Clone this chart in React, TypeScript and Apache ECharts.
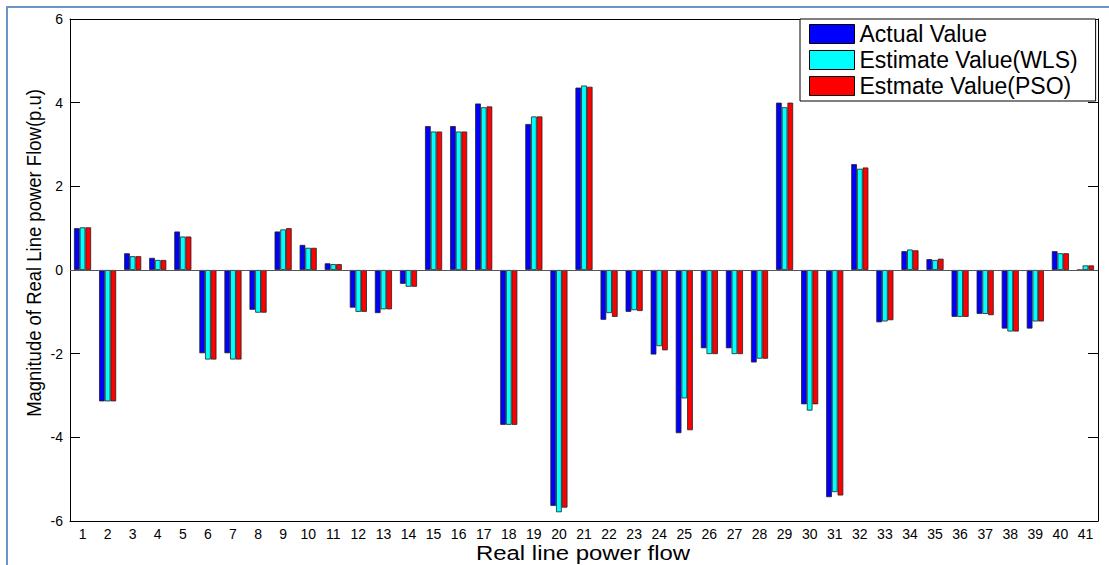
import React, { useEffect, useRef } from "react";
import * as echarts from "echarts";

const categories = [
  "1", "2", "3", "4", "5", "6", "7", "8", "9", "10",
  "11", "12", "13", "14", "15", "16", "17", "18", "19", "20",
  "21", "22", "23", "24", "25", "26", "27", "28", "29", "30",
  "31", "32", "33", "34", "35", "36", "37", "38", "39", "40", "41",
];

const actualValue = [
  1.0, -3.14, 0.4, 0.29, 0.92, -1.99, -1.99, -0.95, 0.92, 0.6,
  0.16, -0.9, -1.03, -0.33, 3.44, 3.44, 3.98, -3.7, 3.49, -5.64,
  4.36, -1.19, -1.0, -2.02, -3.9, -1.87, -1.87, -2.21, 4.0, -3.21,
  -5.43, 2.53, -1.25, 0.45, 0.26, -1.12, -1.05, -1.4, -1.4, 0.45, 0.0,
];

const wlsValue = [
  1.02, -3.14, 0.33, 0.24, 0.8, -2.14, -2.14, -1.02, 0.97, 0.53,
  0.14, -1.0, -0.94, -0.4, 3.31, 3.31, 3.89, -3.7, 3.67, -5.79,
  4.41, -1.03, -0.96, -1.82, -3.07, -2.01, -2.01, -2.12, 3.89, -3.36,
  -5.31, 2.42, -1.23, 0.49, 0.24, -1.12, -1.05, -1.47, -1.23, 0.4, 0.11,
];

const psoValue = [
  1.02, -3.14, 0.33, 0.24, 0.8, -2.14, -2.14, -1.02, 1.0, 0.53,
  0.14, -1.0, -0.94, -0.4, 3.31, 3.31, 3.91, -3.7, 3.67, -5.68,
  4.38, -1.12, -0.98, -1.92, -3.83, -2.01, -2.01, -2.12, 4.0, -3.21,
  -5.39, 2.45, -1.2, 0.47, 0.27, -1.12, -1.08, -1.47, -1.23, 0.4, 0.11,
];

const seriesNames = ["Actual Value", "Estimate Value(WLS)", "Estmate Value(PSO)"];
const seriesColors = ["#0000ff", "#00ffff", "#ff0000"];

const yMin = -6;
const yMax = 6;
const yInterval = 2;

export default function App() {
  const ref = useRef<HTMLDivElement>(null);

  useEffect(() => {
    if (!ref.current) return;
    const chart = echarts.init(ref.current, null, { renderer: "svg" });
    const font = "'Liberation Sans', Arial, Helvetica, sans-serif";
    const axisLineStyle = { color: "#000", width: 1 };

    const datasets = [actualValue, wlsValue, psoValue];
    const series: any[] = datasets.map((d, i) => ({
      type: "bar",
      name: seriesNames[i],
      data: d,
      xAxisIndex: 0,
      yAxisIndex: 0,
      barWidth: 5.7,
      barGap: "0%",
      itemStyle: { color: seriesColors[i], borderColor: "#222", borderWidth: 0.8 },
      ...(i === 0
        ? {
            markLine: {
              silent: true,
              symbol: ["none", "none"],
              label: { show: false },
              lineStyle: { color: "#555", width: 1, type: "solid" },
              data: [{ yAxis: 0 }],
            },
          }
        : {}),
    }));

    chart.setOption({
      animation: false,
      backgroundColor: "#fff",
      grid: { left: 70, top: 19, width: 1028, height: 502, containLabel: false },
      legend: {
        orient: "vertical",
        left: 800,
        top: 19,
        padding: [2, 18, 2, 9],
        itemWidth: 45,
        itemHeight: 19,
        itemGap: 0,
        icon: "rect",
        selectedMode: false,
        backgroundColor: "#fff",
        borderColor: "#000",
        borderWidth: 1,
        itemStyle: { borderColor: "#000", borderWidth: 1 },
        textStyle: { fontSize: 23, fontFamily: font, color: "#000", lineHeight: 26 },
        data: seriesNames,
      },
      xAxis: [
        {
          type: "category",
          data: categories,
          position: "bottom",
          boundaryGap: true,
          axisLine: { onZero: false, lineStyle: axisLineStyle },
          axisTick: { inside: true, length: 8, alignWithLabel: true, lineStyle: { color: "#000" } },
          axisLabel: { color: "#000", fontSize: 14, fontFamily: font, margin: 6, interval: 0 },
          splitLine: { show: false },
        },
        {
          type: "category",
          data: categories,
          position: "top",
          boundaryGap: true,
          axisLine: { onZero: false, lineStyle: axisLineStyle },
          axisTick: { inside: true, length: 8, alignWithLabel: true, lineStyle: { color: "#000" } },
          axisLabel: { show: false },
          splitLine: { show: false },
        },
      ],
      yAxis: [
        {
          type: "value",
          min: yMin,
          max: yMax,
          interval: yInterval,
          position: "left",
          axisLine: { show: true, onZero: false, lineStyle: axisLineStyle },
          axisTick: { show: true, inside: true, length: 10, lineStyle: { color: "#000" } },
          axisLabel: { color: "#000", fontSize: 14, fontFamily: font, margin: 7 },
          splitLine: { show: false },
        },
        {
          type: "value",
          min: yMin,
          max: yMax,
          interval: yInterval,
          position: "right",
          axisLine: { show: true, onZero: false, lineStyle: axisLineStyle },
          axisTick: { show: true, inside: true, length: 10, lineStyle: { color: "#000" } },
          axisLabel: { show: false },
          splitLine: { show: false },
        },
      ],
      graphic: [
        {
          type: "rect",
          silent: true,
          z: -10,
          shape: { x: 7, y: 7, width: 1300, height: 700 },
          style: { fill: "none", stroke: "#6d94c9", lineWidth: 2 },
        },
        {
          type: "text",
          x: 34,
          y: 253,
          rotation: Math.PI / 2,
          scaleY: 1.12,
          style: {
            text: "Magnitude of Real Line power Flow(p.u)",
            fontSize: 18.5,
            fontFamily: font,
            fill: "#000",
            align: "center",
            verticalAlign: "middle",
          },
        },
        {
          type: "text",
          x: 583,
          y: 553,
          scaleX: 1.14,
          style: {
            text: "Real line power flow",
            fontSize: 21,
            fontFamily: font,
            fill: "#000",
            align: "center",
            verticalAlign: "middle",
          },
        },
      ],
      series,
    });

    return () => chart.dispose();
  }, []);

  return (
    <div
      ref={ref}
      style={{ position: "absolute", left: 0, top: 0, width: 1109, height: 565, background: "#fff" }}
    />
  );
}
